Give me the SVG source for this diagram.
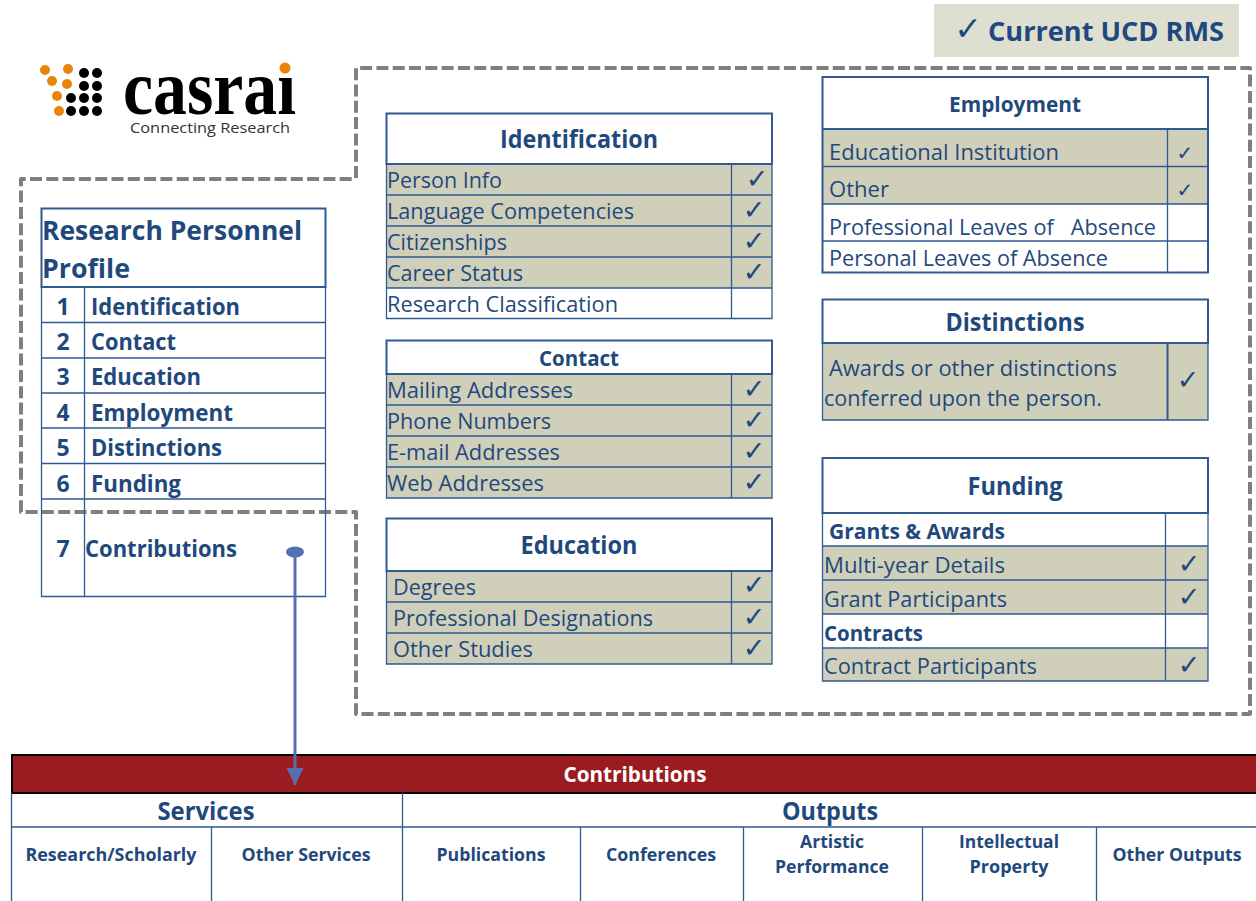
<svg xmlns="http://www.w3.org/2000/svg" width="1256" height="901" viewBox="0 0 1256 901">
<style>
text{font-family:"Open Sans","Noto Sans",sans-serif;fill:#1f497d}
.b{font-weight:700}
.r{font-size:22px}
.m{text-anchor:middle}
.c{font-family:"DejaVu Sans",sans-serif;font-size:27px;text-anchor:middle;fill:#1f497d}
.o{fill:none;stroke:#2f5a92;stroke-width:2}
.l{stroke:#2f5a92;stroke-width:1.3;fill:none}
.f{fill:#d0cfb9}
.w{fill:#fff}
.or{fill:#e8860c}
.k{fill:#000}
</style>
<defs><marker id="ah" markerWidth="17" markerHeight="18" refX="17" refY="8.500" orient="auto" markerUnits="userSpaceOnUse" viewBox="0 0 17 17"><path d="M0 0L17 8.500L0 17Z" fill="#5470b3"/></marker></defs>
<rect width="1256" height="901" fill="#fff"/>
<g id="legend"><rect x="934" y="4" width="305" height="53" fill="#dfdfd1"/><text x="968" y="40" class="c b" style="font-size:33px">✓</text><text x="988" y="41" class="b" font-size="27" textLength="236" lengthAdjust="spacingAndGlyphs">Current UCD RMS</text></g>
<g id="logo">
<circle cx="45" cy="70" r="5" class="or"/><circle cx="68" cy="69" r="5" class="or"/><circle cx="52" cy="81" r="5" class="or"/><circle cx="67" cy="84" r="5" class="or"/><circle cx="57" cy="96" r="5" class="or"/><circle cx="59" cy="111" r="5" class="or"/>
<circle cx="84" cy="73" r="5" class="k"/><circle cx="97" cy="73" r="5" class="k"/><circle cx="84" cy="86" r="5" class="k"/><circle cx="97" cy="86" r="5" class="k"/><circle cx="71" cy="98" r="5" class="k"/><circle cx="84" cy="98" r="5" class="k"/><circle cx="97" cy="98" r="5" class="k"/><circle cx="71" cy="111" r="5" class="k"/><circle cx="84" cy="111" r="5" class="k"/><circle cx="97" cy="111" r="5" class="k"/>
<text x="123" y="114" class="b" style="font-family:'Liberation Serif',serif;fill:#000" font-size="78" textLength="173" lengthAdjust="spacingAndGlyphs">casrai</text>
<rect x="274" y="48" width="22" height="28" class="w"/>
<circle cx="285" cy="68" r="5.500" class="or"/>
<text x="130" y="133" style="fill:#333" font-size="14.500" textLength="160" lengthAdjust="spacingAndGlyphs">Connecting Research</text>
</g>
<g id="connectors">
<path d="M356 178V68H1250V714H356V512H21V179H356" fill="none" stroke="#7f7f7f" stroke-width="4" stroke-dasharray="12 4.300" stroke-linejoin="round"/>
</g>
<g id="profile">
<path class="o" d="M41.500 208.500H325.500V287H41.500Z"/>
<path class="l" d="M41.500 287V596.500H325.500V287M84.500 287V596.500M41.500 322.500H325.500M41.500 358H325.500M41.500 393H325.500M41.500 428H325.500M41.500 463.500H325.500M41.500 499H325.500"/>
<text x="42" y="240" class="b" font-size="27" textLength="260" lengthAdjust="spacingAndGlyphs">Research Personnel</text>
<text x="42" y="278" class="b" font-size="27" textLength="88" lengthAdjust="spacingAndGlyphs">Profile</text>
<g class="b" font-size="23">
<text x="63" y="315" class="m">1</text><text x="91" y="315" textLength="149" lengthAdjust="spacingAndGlyphs">Identification</text>
<text x="63" y="350" class="m">2</text><text x="91" y="350" textLength="85" lengthAdjust="spacingAndGlyphs">Contact</text>
<text x="63" y="385" class="m">3</text><text x="91" y="385" textLength="110" lengthAdjust="spacingAndGlyphs">Education</text>
<text x="63" y="421" class="m">4</text><text x="91" y="421" textLength="142" lengthAdjust="spacingAndGlyphs">Employment</text>
<text x="63" y="456" class="m">5</text><text x="91" y="456" textLength="131" lengthAdjust="spacingAndGlyphs">Distinctions</text>
<text x="63" y="492" class="m">6</text><text x="91" y="492" textLength="90" lengthAdjust="spacingAndGlyphs">Funding</text>
<text x="63" y="557" class="m">7</text><text x="85" y="557" textLength="152" lengthAdjust="spacingAndGlyphs">Contributions</text>
</g>
</g>
<g id="identification">
<rect class="f" x="386" y="164" width="386" height="124"/>
<path class="o" d="M386.500 113.500H772V164H386.500Z"/>
<path class="l" d="M386.500 164V318.500H772V164M731.500 164V318.500M386.500 195H772M386.500 226H772M386.500 257H772M386.500 288H772"/>
<text x="579" y="148" class="b m" font-size="25" textLength="158" lengthAdjust="spacingAndGlyphs">Identification</text>
<text x="387" y="188" class="r" textLength="115" lengthAdjust="spacingAndGlyphs">Person Info</text>
<text x="387" y="219" class="r" textLength="247" lengthAdjust="spacingAndGlyphs">Language Competencies</text>
<text x="387" y="250" class="r" textLength="120" lengthAdjust="spacingAndGlyphs">Citizenships</text>
<text x="387" y="281" class="r" textLength="136" lengthAdjust="spacingAndGlyphs">Career Status</text>
<text x="387" y="312" class="r" textLength="231" lengthAdjust="spacingAndGlyphs">Research Classification</text>
<text x="757" y="188" class="c">✓</text><text x="754" y="219" class="c">✓</text><text x="754" y="250" class="c">✓</text><text x="754" y="281" class="c">✓</text>
</g>
<g id="contact">
<rect class="f" x="386" y="374" width="386" height="124"/>
<path class="o" d="M386.500 340.500H772V374H386.500Z"/>
<path class="l" d="M386.500 374V498H772V374M731.500 374V498M386.500 405H772M386.500 436H772M386.500 467H772"/>
<text x="579" y="366" class="b m" font-size="21" textLength="80" lengthAdjust="spacingAndGlyphs">Contact</text>
<text x="387" y="398" class="r" textLength="186" lengthAdjust="spacingAndGlyphs">Mailing Addresses</text>
<text x="387" y="429" class="r" textLength="164" lengthAdjust="spacingAndGlyphs">Phone Numbers</text>
<text x="387" y="460" class="r" textLength="173" lengthAdjust="spacingAndGlyphs">E-mail Addresses</text>
<text x="387" y="491" class="r" textLength="157" lengthAdjust="spacingAndGlyphs">Web Addresses</text>
<text x="754" y="398" class="c">✓</text><text x="754" y="429" class="c">✓</text><text x="754" y="460" class="c">✓</text><text x="754" y="491" class="c">✓</text>
</g>
<g id="education">
<rect class="f" x="386" y="571" width="386" height="93"/>
<path class="o" d="M386.500 518.500H772V571H386.500Z"/>
<path class="l" d="M386.500 571V664H772V571M731.500 571V664M386.500 602H772M386.500 633H772"/>
<text x="579" y="554" class="b m" font-size="25" textLength="117" lengthAdjust="spacingAndGlyphs">Education</text>
<text x="393" y="595" class="r" textLength="83" lengthAdjust="spacingAndGlyphs">Degrees</text>
<text x="393" y="626" class="r" textLength="260" lengthAdjust="spacingAndGlyphs">Professional Designations</text>
<text x="393" y="657" class="r" textLength="140" lengthAdjust="spacingAndGlyphs">Other Studies</text>
<text x="754" y="594" class="c">✓</text><text x="754" y="626" class="c">✓</text><text x="754" y="657" class="c">✓</text>
</g>
<g id="employment">
<rect class="f" x="822" y="129" width="386" height="75"/>
<path class="o" d="M822.500 77H1208V129H822.500ZM822.500 129V272.500H1208V129"/>
<path class="l" d="M1167.500 129V272.500M822.500 166.500H1208M822.500 204H1208M822.500 241H1208"/>
<text x="1015" y="112" class="b m" font-size="22" textLength="132" lengthAdjust="spacingAndGlyphs">Employment</text>
<text x="829" y="160" class="r" textLength="230" lengthAdjust="spacingAndGlyphs">Educational Institution</text>
<text x="829" y="197" class="r" textLength="60" lengthAdjust="spacingAndGlyphs">Other</text>
<text x="829" y="235" class="r" xml:space="preserve" textLength="327" lengthAdjust="spacingAndGlyphs">Professional Leaves of   Absence</text>
<text x="829" y="266" class="r" textLength="279" lengthAdjust="spacingAndGlyphs">Personal Leaves of Absence</text>
<text x="1185" y="160" class="c" style="font-size:20px">✓</text><text x="1185" y="197" class="c" style="font-size:20px">✓</text>
</g>
<g id="distinctions">
<rect class="f" x="822" y="343" width="386" height="77"/>
<path class="o" d="M822.500 299.500H1208V343H822.500Z"/>
<path class="l" d="M822.500 343V420H1208V343"/>
<path class="o" d="M1167.500 343V420"/>
<text x="1015" y="331" class="b m" font-size="25" textLength="139" lengthAdjust="spacingAndGlyphs">Distinctions</text>
<text x="829" y="376" class="r" textLength="288" lengthAdjust="spacingAndGlyphs">Awards or other distinctions</text>
<text x="824" y="406" class="r" textLength="278" lengthAdjust="spacingAndGlyphs">conferred upon the person.</text>
<text x="1188" y="389" class="c">✓</text>
</g>
<g id="funding">
<rect class="f" x="822" y="546" width="386" height="68"/><rect class="f" x="822" y="648" width="386" height="33"/>
<path class="o" d="M822.500 458H1208V513H822.500Z"/>
<path class="l" d="M822.500 513V681H1208V513M1165.500 513V681M822.500 546H1208M822.500 580H1208M822.500 614H1208M822.500 648H1208"/>
<text x="1015" y="495" class="b m" font-size="25" textLength="95" lengthAdjust="spacingAndGlyphs">Funding</text>
<text x="829" y="539" class="b r" textLength="176" lengthAdjust="spacingAndGlyphs">Grants &amp; Awards</text>
<text x="824" y="573" class="r" textLength="181" lengthAdjust="spacingAndGlyphs">Multi-year Details</text>
<text x="824" y="607" class="r" textLength="183" lengthAdjust="spacingAndGlyphs">Grant Participants</text>
<text x="824" y="641" class="b r" textLength="99" lengthAdjust="spacingAndGlyphs">Contracts</text>
<text x="824" y="674" class="r" textLength="213" lengthAdjust="spacingAndGlyphs">Contract Participants</text>
<text x="1189" y="573" class="c">✓</text><text x="1189" y="606" class="c">✓</text><text x="1189" y="674" class="c">✓</text>
</g>
<g id="contributions-table">
<rect x="12" y="755" width="1250" height="38" fill="#9b1c20" stroke="#000" stroke-width="2"/>
<path class="l" d="M11.500 793V901M211.500 827V901M402.500 793V901M580.500 827V901M743.500 827V901M922.500 827V901M1096.500 827V901M11 827H1256"/>
<text x="635" y="782" class="b m" font-size="21" style="fill:#fff" textLength="143" lengthAdjust="spacingAndGlyphs">Contributions</text>
<text x="206" y="820" class="b m" font-size="25" textLength="97" lengthAdjust="spacingAndGlyphs">Services</text>
<text x="830" y="820" class="b m" font-size="25" textLength="96" lengthAdjust="spacingAndGlyphs">Outputs</text>
<g class="b m" font-size="18.500">
<text x="111" y="861" textLength="171" lengthAdjust="spacingAndGlyphs">Research/Scholarly</text>
<text x="306" y="861" textLength="129" lengthAdjust="spacingAndGlyphs">Other Services</text>
<text x="491" y="861" textLength="109" lengthAdjust="spacingAndGlyphs">Publications</text>
<text x="661" y="861" textLength="110" lengthAdjust="spacingAndGlyphs">Conferences</text>
<text x="832" y="848" textLength="64" lengthAdjust="spacingAndGlyphs">Artistic</text>
<text x="832" y="873" textLength="114" lengthAdjust="spacingAndGlyphs">Performance</text>
<text x="1009" y="848" textLength="100" lengthAdjust="spacingAndGlyphs">Intellectual</text>
<text x="1009" y="873" textLength="79" lengthAdjust="spacingAndGlyphs">Property</text>
<text x="1177" y="861" textLength="129" lengthAdjust="spacingAndGlyphs">Other Outputs</text>
</g>
</g>
<g id="arrow">
<ellipse cx="295" cy="552" rx="9" ry="5.500" fill="#5470b3"/>
<path d="M295 552V785" stroke="#5470b3" stroke-width="3" fill="none" marker-end="url(#ah)"/>
</g>
</svg>
